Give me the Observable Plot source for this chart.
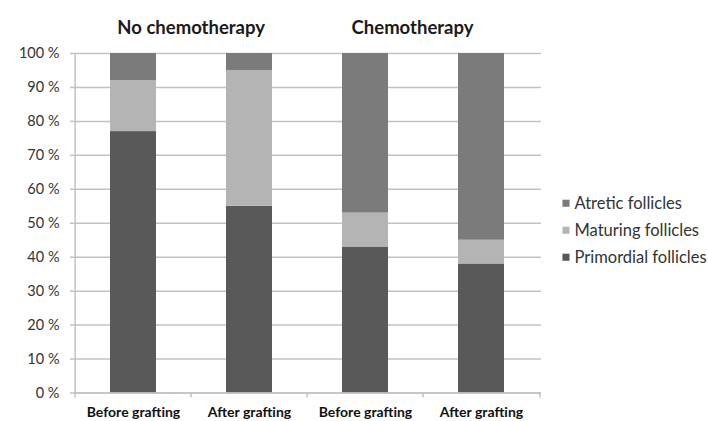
<!DOCTYPE html>
<html>
<head>
<meta charset="utf-8">
<script src="https://cdn.jsdelivr.net/npm/d3@7"></script>
<script src="https://cdn.jsdelivr.net/npm/@observablehq/plot@0.6"></script>
<style>
  html, body { margin: 0; padding: 0; background: #fff; }
</style>
</head>
<body>
<div id="chart"></div>
<script>
const categories = ["Before grafting", "After grafting", "Before grafting", "After grafting"];
const groups = ["No chemotherapy", "Chemotherapy"];
const series = ["Primordial follicles", "Maturing follicles", "Atretic follicles"];
const primordial = [77, 55, 43, 38];
const maturing = [15, 40, 10, 7];
const atretic = [8, 5, 47, 55];
const yTicks = [0, 10, 20, 30, 40, 50, 60, 70, 80, 90, 100];
const colors = ["#595959", "#b4b4b4", "#7b7b7b"];
const legendOrder = ["Atretic follicles", "Maturing follicles", "Primordial follicles"];

const values = [primordial, maturing, atretic];
const idx = categories.map((_, i) => i);
const rows = [];
series.forEach((s, si) => idx.forEach(i => rows.push({i, series: s, value: values[si][i]})));

const W = 708, H = 421, ML = 74, MR = 167, MT = 53, MB = 28.5;
const step = (W - ML - MR) / categories.length;
const gray = "#c2c2c2";
const font = "Lato, 'Open Sans', sans-serif";

const chart = Plot.plot({
  width: W, height: H,
  marginLeft: ML, marginRight: MR, marginTop: MT, marginBottom: MB,
  style: {fontFamily: font, background: "#fff", overflow: "visible"},
  x: {domain: idx, paddingInner: 0.6, paddingOuter: 0.3, axis: null, label: null},
  y: {domain: [0, 100], axis: null, label: null},
  color: {domain: series, range: colors},
  marks: [
    Plot.gridY(yTicks, {stroke: gray, strokeOpacity: 1, strokeWidth: 1.5}),
    Plot.axisY(yTicks, {label: null, tickSize: 4, tickPadding: 11, tickFormat: d => d + " %", fontSize: 14.5, fill: "#333", stroke: gray, strokeWidth: 1.5}),
    Plot.barY(rows, {x: "i", y: "value", fill: "series", order: series}),
    // left axis line
    Plot.ruleX([0], {x: d => d, dx: -step / 2, y1: 0, y2: 100, stroke: gray, strokeWidth: 1.5}),
    // bottom axis line
    Plot.ruleY([0], {stroke: gray, strokeWidth: 1.5}),
    // category boundary ticks
    Plot.ruleX(idx, {x: d => d, dx: -step / 2, y1: 0, y2: 0, insetTop: 5, stroke: gray, strokeWidth: 1.5}),
    Plot.ruleX([idx[idx.length - 1]], {x: d => d, dx: step / 2, y1: 0, y2: 0, insetTop: 5, stroke: gray, strokeWidth: 1.5}),
    Plot.axisX(idx, {label: null, tickSize: 0, tickPadding: 14, tickFormat: i => categories[i], fontSize: 14, fontWeight: "bold", fill: "#111"}),
    // group titles
    Plot.text([groups[0]], {x: () => 1, dx: -step / 2, frameAnchor: "top", dy: -33, fontSize: 18.5, fontWeight: "bold", fill: "#1a1a1a", text: d => d}),
    Plot.text([groups[1]], {x: () => 2, dx: 47, frameAnchor: "top", dy: -33, fontSize: 18.5, fontWeight: "bold", fill: "#1a1a1a", text: d => d}),
    // legend
    ...legendOrder.map((s, k) => Plot.dot([s], {frameAnchor: "right", dx: 24.5, dy: -20 + k * 27, symbol: "square", r: 4, fill: d => d})),
    ...legendOrder.map((s, k) => Plot.text([s], {frameAnchor: "right", dx: 33, dy: -20 + k * 27, textAnchor: "start", fontSize: 16.5, fill: "#333", text: d => d}))
  ]
});
document.getElementById("chart").appendChild(chart);
</script>
</body>
</html>
